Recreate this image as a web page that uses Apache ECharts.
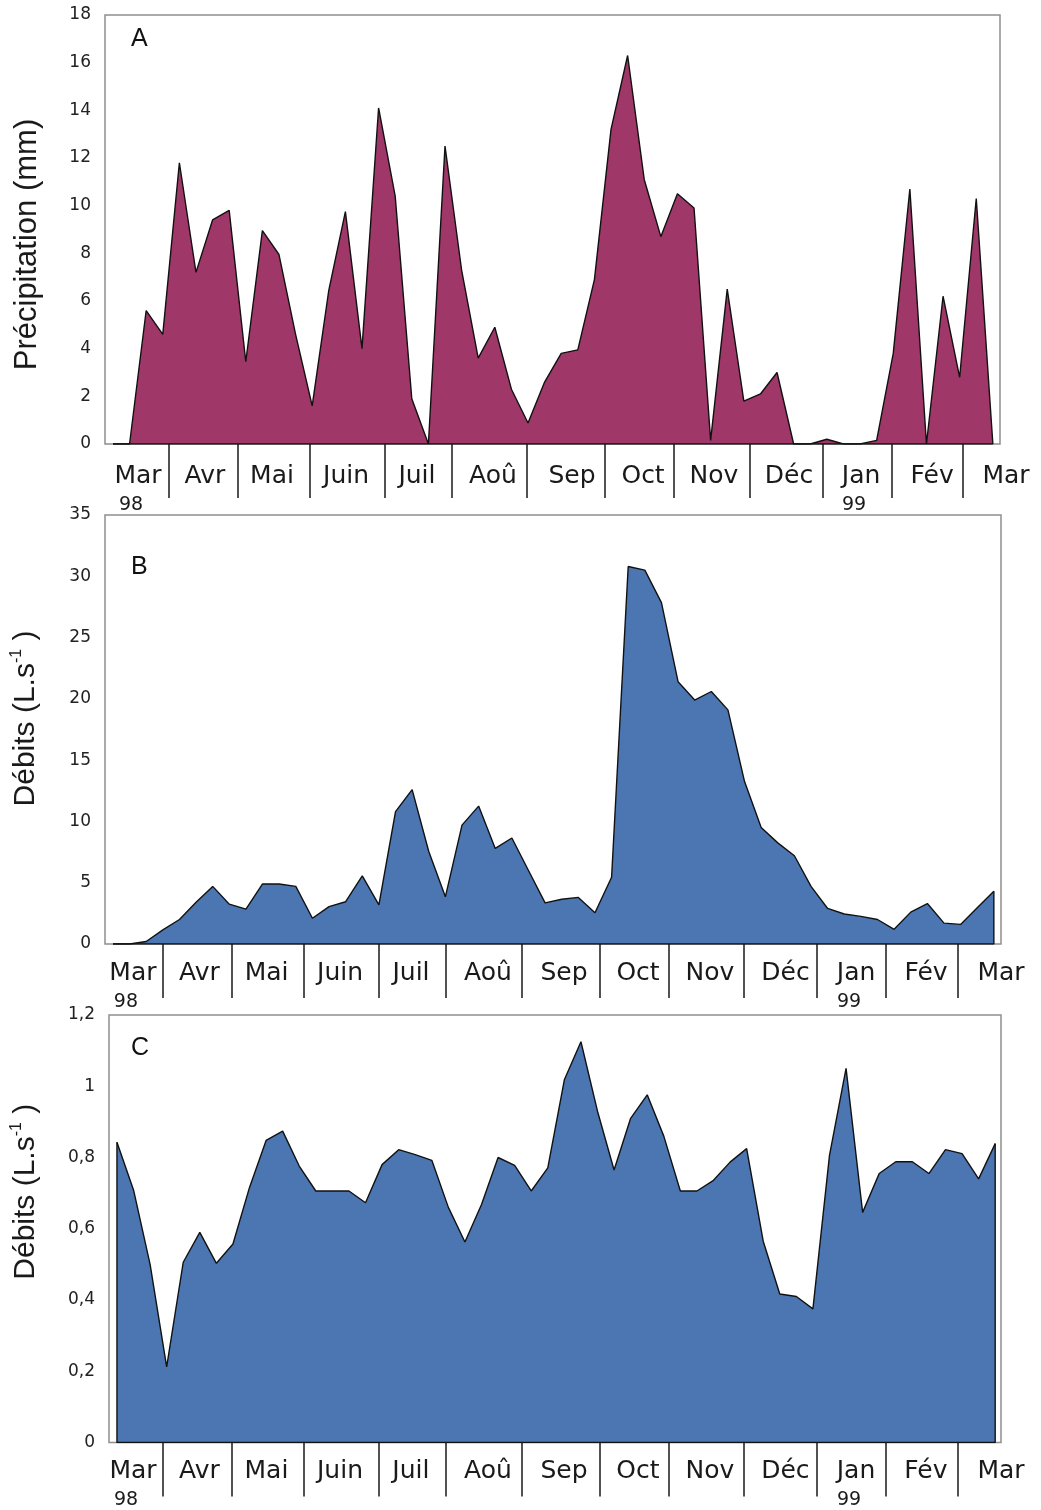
<!DOCTYPE html>
<html>
<head>
<meta charset="utf-8">
<script src="https://cdn.jsdelivr.net/npm/echarts@6/dist/echarts.min.js"></script>
<style>
  html, body { margin: 0; padding: 0; background: #ffffff; }
  #chart { width: 1041px; height: 1510px; }
</style>
</head>
<body>
<div id="chart"></div>
<script>
// ---- Data (weekly values, Mar 1998 - Mar 1999) ----
const precipitation = [0, 0, 5.6, 4.6, 11.8, 7.2, 9.4, 9.8, 3.45, 8.95,
  7.95, 4.6, 1.6, 6.45, 9.75, 4.0, 14.1, 10.4, 1.9, 0,
  12.5, 7.3, 3.6, 4.9, 2.3, 0.88, 2.6, 3.8, 3.95, 6.9,
  13.2, 16.3, 11.1, 8.7, 10.5, 9.9, 0.15, 6.5, 1.8, 2.1,
  3.0, 0, 0, 0.2, 0, 0, 0.15, 3.8, 10.7, 0,
  6.2, 2.8, 10.3, 0];

const flowB = [0, 0, 0.2, 1.15, 2.0, 3.4, 4.7, 3.25, 2.85, 4.9,
  4.9, 4.7, 2.1, 3.05, 3.45, 5.55, 3.2, 10.8, 12.6, 7.55,
  3.85, 9.7, 11.25, 7.8, 8.65, 6.0, 3.35, 3.65, 3.8, 2.55,
  5.45, 30.8, 30.5, 27.85, 21.4, 19.9, 20.6, 19.1, 13.25, 9.5,
  8.25, 7.2, 4.7, 2.9, 2.45, 2.25, 2.0, 1.2, 2.6, 3.3,
  1.7, 1.6, 2.95, 4.3];

const flowC = [0.843, 0.709, 0.5, 0.212, 0.506, 0.59, 0.503, 0.557, 0.716, 0.848,
  0.874, 0.776, 0.706, 0.706, 0.706, 0.673, 0.78, 0.822, 0.808, 0.792,
  0.66, 0.563, 0.668, 0.8, 0.778, 0.706, 0.771, 1.018, 1.125, 0.93,
  0.765, 0.91, 0.976, 0.86, 0.706, 0.706, 0.736, 0.787, 0.825, 0.565,
  0.417, 0.41, 0.375, 0.806, 1.05, 0.646, 0.755, 0.788, 0.788, 0.755,
  0.822, 0.811, 0.74, 0.839];

const monthNames = ['Mar', 'Avr', 'Mai', 'Juin', 'Juil', 'Aoû', 'Sep', 'Oct', 'Nov', 'Déc', 'Jan', 'Fév', 'Mar'];
const yearLabels = { 0: '98', 10: '99' };

// month boundaries and month-label positions, in week units
const monthTicksA = [3.37, 7.53, 11.87, 16.39, 20.42, 24.94, 29.64, 33.8, 38.37, 42.77, 46.93, 51.2];
const monthLabelsA = [1.51, 5.54, 9.58, 14.04, 18.31, 22.89, 27.65, 31.93, 36.2, 40.72, 45.06, 49.34, 53.43];
const monthTicksB = [3.01, 7.16, 11.49, 16.0, 20.04, 24.58, 29.27, 33.45, 37.97, 42.36, 46.51, 50.84];
const monthLabelsB = [1.2, 5.2, 9.24, 13.66, 17.93, 22.56, 27.14, 31.59, 35.92, 40.46, 44.71, 48.92, 53.43];
const monthTicksC = [2.78, 6.94, 11.29, 15.81, 19.86, 24.41, 29.12, 33.31, 37.84, 42.25, 46.41, 50.75];
const monthLabelsC = [0.97, 4.98, 9.02, 13.46, 17.74, 22.39, 26.98, 31.44, 35.79, 40.34, 44.6, 48.82, 53.35];

const yTicksA = { min: 0, max: 18, interval: 2 };
const yTicksB = { min: 0, max: 35, interval: 5 };
const yTicksC = { min: 0, max: 1.2, interval: 0.2 };

// ---- Chart ----
const chart = echarts.init(document.getElementById('chart'), null, { renderer: 'canvas' });

const MAROON = '#9f3768';
const BLUE = '#4b76b2';

function labelFormatter(positions, lastShift) {
  return function (value) {
    let idx = 0, best = Infinity;
    positions.forEach((p, i) => { const d = Math.abs(p - value); if (d < best) { best = d; idx = i; } });
    const style = (idx === positions.length - 1 && lastShift) ? 'mlast' : 'm';
    let s = '{' + style + '|' + monthNames[idx] + '}';
    if (yearLabels[idx]) s += '\n{yr|' + yearLabels[idx] + '}';
    return s;
  };
}

const richMonth = {
  m: { fontSize: 25, lineHeight: 30, fontFamily: 'DejaVu Sans', color: '#1a1a1a' },
  mlast: { fontSize: 25, lineHeight: 30, fontFamily: 'DejaVu Sans', color: '#1a1a1a', padding: [0, 0, 0, 12] },
  yr: { fontSize: 19, lineHeight: 28, fontFamily: 'DejaVu Sans', color: '#1a1a1a', padding: [0, 14, 0, 0] }
};

function makeX(gridIndex, min, max, ticks, labels, margin, lastShift) {
  return {
    gridIndex: gridIndex, type: 'value', min: min, max: max,
    axisLine: { show: false },
    splitLine: { show: false },
    axisTick: { show: true, customValues: ticks, length: 54, lineStyle: { color: '#1a1a1a', width: 1.5 } },
    axisLabel: { show: true, customValues: labels, margin: margin, formatter: labelFormatter(labels, lastShift), rich: richMonth }
  };
}

const nameStyleBase = { fontFamily: 'Liberation Sans', fontSize: 31, color: '#1a1a1a' };

function makeY(gridIndex, t, name, nameGap, padding, rich, fmt) {
  return {
    gridIndex: gridIndex, type: 'value', min: t.min, max: t.max, interval: t.interval,
    axisLine: { show: false }, axisTick: { show: false }, splitLine: { show: false },
    axisLabel: { fontSize: 17, fontFamily: 'DejaVu Sans', color: '#222', margin: 14, formatter: fmt },
    name: name, nameLocation: 'middle', nameGap: nameGap, nameRotate: 90,
    nameTextStyle: Object.assign({}, nameStyleBase, { padding: padding, rich: rich })
  };
}

const richDebit = {
  a: { fontFamily: 'Liberation Sans', fontSize: 30, color: '#1a1a1a', lineHeight: 34 },
  s: { fontFamily: 'Liberation Sans', fontSize: 16, color: '#1a1a1a', verticalAlign: 'top', lineHeight: 34 }
};
const debitName = '{a|Débits (L.s}{s|-1}{a| )}';

function areaSeries(idx, values, color) {
  return {
    type: 'line', xAxisIndex: idx, yAxisIndex: idx,
    data: values.map((v, i) => [i, v]),
    symbol: 'none', smooth: false,
    lineStyle: { color: '#111', width: 1.4 },
    itemStyle: { color: color },
    areaStyle: { color: color, opacity: 1 },
    z: 2
  };
}
function outlineSeries(idx, values) {
  const n = values.length - 1;
  return {
    type: 'line', xAxisIndex: idx, yAxisIndex: idx,
    data: [[0, values[0]], [0, 0], [n, 0], [n, values[n]]],
    symbol: 'none', lineStyle: { color: '#111', width: 1.4 }, z: 3
  };
}

const gridStyle = { show: true, borderColor: '#8f8f8f', borderWidth: 1.5, backgroundColor: 'transparent' };
const letterStyle = { fontFamily: 'Liberation Sans', fontSize: 25, fontWeight: 'normal', color: '#111' };

const option = {
  animation: false,
  backgroundColor: '#ffffff',
  title: [
    { text: 'A', left: 131, top: 27, padding: 0, textStyle: letterStyle },
    { text: 'B', left: 131, top: 555, padding: 0, textStyle: letterStyle },
    { text: 'C', left: 131, top: 1036, padding: 0, textStyle: letterStyle }
  ],
  grid: [
    Object.assign({ left: 105, top: 15, width: 895, height: 429 }, gridStyle),
    Object.assign({ left: 105, top: 515, width: 896, height: 429 }, gridStyle),
    Object.assign({ left: 109, top: 1015, width: 892, height: 429 }, gridStyle)
  ],
  xAxis: [
    makeX(0, -0.48, 53.43, monthTicksA, monthLabelsA, 17, true),
    makeX(1, -0.48, 53.43, monthTicksB, monthLabelsB, 14, false),
    makeX(2, -0.48, 53.35, monthTicksC, monthLabelsC, 14, false)
  ],
  yAxis: [
    makeY(0, yTicksA, 'Précipitation (mm)', 62, [0, 30, 0, 0], undefined, undefined),
    makeY(1, yTicksB, debitName, 62, [0, 0, 0, 22], richDebit, undefined),
    makeY(2, yTicksC, debitName, 66, [0, 0, 0, 74], richDebit, v => String(+(+v).toFixed(1)).replace('.', ','))
  ],
  series: [
    areaSeries(0, precipitation, MAROON), outlineSeries(0, precipitation),
    areaSeries(1, flowB, BLUE), outlineSeries(1, flowB),
    areaSeries(2, flowC, BLUE), outlineSeries(2, flowC)
  ]
};

chart.setOption(option);
</script>
</body>
</html>
